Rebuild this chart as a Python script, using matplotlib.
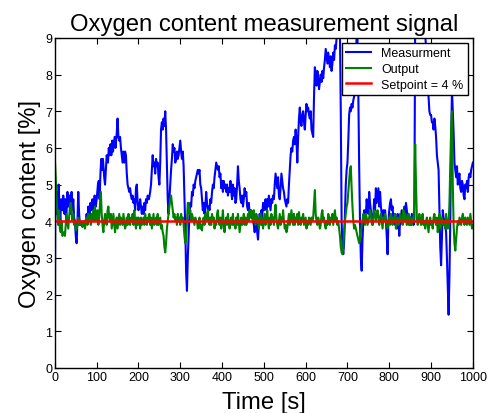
import matplotlib
matplotlib.use("Agg")
import matplotlib.pyplot as plt

plt.rcParams['font.family'] = ['Liberation Sans', 'DejaVu Sans']

# Measurement signal (time [s], value [%])
meas_t = [0, 1, 3, 5, 7, 9, 11, 13, 15, 18, 20, 23, 25, 27, 30, 32, 35, 37, 40, 42, 44, 46, 48,
          50, 52, 54, 56, 58, 60, 63, 66, 70, 73, 76, 78, 80, 83, 85, 88, 90, 93, 95, 98,
          100, 103, 105, 107, 109, 111, 113, 115, 118, 120, 122, 124, 127, 129, 131, 133, 135,
          137, 139, 141, 143, 145, 148, 150, 152, 154, 156, 158, 160, 162, 164, 166, 168, 170,
          172, 174, 176, 178, 180, 182, 184, 186, 188, 190, 192, 194, 196, 198, 200, 202, 204,
          206, 208, 210, 212, 214, 216, 218, 220, 222, 225, 228, 230, 232, 234, 236, 238, 240,
          242, 244, 246, 248, 250, 252, 254, 256, 258, 260, 262, 264, 266, 268, 270, 272, 274,
          276, 278, 280, 282, 284, 286, 288, 290, 292, 294, 296, 298, 300, 302, 304, 306, 308,
          310, 312, 314, 316, 318, 320, 322, 324, 326, 328, 330, 332, 334, 336, 338, 340, 342,
          344, 346, 348, 350, 352, 354, 356, 358, 360, 362, 364, 366, 368, 370, 372, 374, 376,
          378, 380, 382, 384, 386, 388, 390, 392, 394, 396, 398, 400, 402, 404, 406, 408, 410,
          412, 414, 416, 418, 420, 422, 424, 426, 428, 430, 432, 434, 436, 438, 440, 442, 444,
          446, 448, 450, 452, 454, 456, 458, 460, 462, 464, 466, 468, 470, 472, 474, 476, 478,
          480, 482, 484, 486, 488, 490, 492, 494, 496, 498, 500, 502, 504, 506, 508, 510, 512,
          514, 516, 518, 520, 522, 524, 526, 528, 530, 532, 534, 536, 538, 540, 542, 544, 546,
          548, 550, 552, 554, 556, 558, 560, 562, 564, 566, 568, 570, 572, 574, 576, 578, 580,
          582, 584, 586, 588, 590, 592, 594, 596, 598, 600, 602, 604, 606, 608, 610, 612, 614,
          616, 618, 620, 622, 624, 626, 628, 630, 632, 634, 636, 638, 640, 642, 644, 646, 648,
          650, 652, 654, 656, 658, 660, 662, 664, 666, 668, 670, 672, 674, 676, 678, 680, 682,
          684, 686, 688, 690, 692, 694, 696, 698, 700, 702, 704, 706, 708, 710, 712, 714, 716,
          718, 720, 722, 724, 726, 728, 730, 732, 734, 736, 738, 740, 742, 744, 746, 748, 750,
          752, 754, 756, 758, 760, 762, 764, 766, 768, 770, 772, 774, 776, 778, 780, 782, 784,
          786, 788, 790, 792, 794, 796, 798, 800, 802, 804, 806, 808, 810, 812, 814, 816, 818,
          820, 822, 824, 826, 828, 830, 832, 834, 836, 838, 840, 842, 844, 846, 848, 850, 852,
          854, 856, 858, 860, 862, 866, 875, 885, 890, 892, 894, 896, 898, 900, 902, 904, 906,
          908, 910, 912, 914, 916, 918, 920, 922, 924, 926, 928, 930, 932, 934, 936, 938, 940,
          942, 944, 946, 948, 950, 952, 954, 956, 958, 960, 962, 964, 966, 968, 970, 972, 974,
          976, 978, 980, 982, 984, 986, 988, 990, 992, 994, 996, 998, 1000]
meas_v = [0.2, 4.6, 4.2, 4.8, 4.3, 5.0, 4.4, 4.0, 4.6, 4.3, 4.7, 4.2, 4.6, 4.0, 4.8, 4.4, 4.7, 4.2, 4.8, 4.3, 4.6, 4.1, 4.0,
          3.6, 3.4, 4.0, 4.8, 4.2, 3.9, 3.9, 3.85, 3.9, 3.95, 4.2, 4.0, 4.4, 4.1, 4.5, 4.3, 4.6, 4.2, 4.7, 4.4,
          4.6, 5.0, 5.1, 4.6, 5.3, 5.7, 5.4, 5.7, 5.2, 5.0, 5.4, 5.8, 5.6, 6.0, 5.8, 6.1, 5.8,
          6.2, 5.9, 6.1, 6.3, 6.0, 6.4, 6.8, 6.3, 6.2, 6.3, 6.0, 5.8, 5.6, 5.9, 5.6, 5.9, 5.8,
          5.3, 5.0, 4.9, 4.8, 4.9, 4.7, 4.6, 4.7, 4.5, 4.6, 4.3, 4.9, 5.0, 4.5, 4.3, 4.4, 4.6,
          4.4, 4.2, 4.4, 4.2, 4.5, 4.3, 4.6, 4.5, 4.7, 4.6, 4.8, 5.0, 5.4, 5.8, 5.5, 5.6, 5.3,
          5.7, 5.5, 5.6, 5.2, 5.0, 5.6, 6.5, 6.7, 6.5, 6.8, 6.6, 7.0, 6.5, 5.5, 4.6, 4.2, 4.6,
          5.0, 5.4, 5.7, 6.1, 5.9, 6.0, 5.6, 5.7, 5.9, 5.7, 5.8, 6.0, 6.2, 5.9, 5.7, 5.9, 5.5,
          4.6, 3.8, 2.6, 2.1, 3.0, 3.6, 4.2, 4.5, 4.4, 4.8, 4.7, 5.0, 4.9, 5.1, 5.2, 5.3, 5.4,
          5.3, 5.4, 5.0, 4.9, 4.6, 4.3, 4.5, 4.2, 4.4, 4.8, 4.5, 4.3, 4.4, 4.3, 4.6, 4.5, 4.8,
          5.0, 4.9, 5.2, 5.4, 5.6, 5.5, 5.4, 5.5, 5.2, 5.3, 4.9, 5.1, 4.8, 5.1, 4.9, 5.0, 4.8,
          5.0, 4.7, 4.9, 4.8, 5.1, 4.8, 4.6, 5.0, 4.7, 4.9, 4.5, 4.6, 5.0, 5.5, 5.1, 4.9, 4.6,
          4.5, 4.7, 4.4, 4.6, 4.9, 4.7, 4.8, 4.4, 4.3, 4.5, 4.2, 4.3, 4.1, 4.2, 4.0, 3.9, 3.7,
          4.0, 4.1, 3.7, 3.5, 3.9, 4.2, 4.0, 4.3, 4.1, 4.5, 4.3, 4.4, 4.6, 4.3, 4.6, 4.4, 4.7,
          4.5, 4.3, 4.6, 4.5, 4.7, 4.6, 5.0, 5.3, 5.1, 4.9, 5.2, 4.7, 4.6, 4.9, 5.3, 5.1, 4.9,
          4.8, 4.6, 4.5, 4.4, 4.6, 4.5, 5.0, 5.4, 5.8, 6.0, 5.9, 6.2, 6.3, 6.1, 6.5, 6.2, 5.6,
          6.3, 6.8, 7.1, 6.7, 6.6, 6.9, 7.0, 6.7, 6.5, 6.9, 7.2, 7.0, 7.1, 6.9, 6.8, 7.0, 6.5,
          6.4, 6.3, 7.4, 8.2, 8.0, 7.7, 8.1, 7.9, 7.6, 7.8, 8.0, 7.8, 8.1, 7.9, 8.2, 8.4, 8.7,
          8.5, 8.3, 8.6, 8.4, 8.2, 8.5, 8.1, 8.3, 8.6, 8.4, 8.8, 8.7, 9.0, 9.3, 9.5, 9.4, 9.2,
          7.0, 4.0, 3.3, 3.1, 3.4, 4.2, 5.0, 5.4, 5.6, 6.2, 6.9, 7.1, 7.0, 7.2, 7.1, 7.3, 7.4,
          7.5, 8.0, 9.2, 9.0, 7.5, 5.5, 4.0, 3.0, 2.65, 3.5, 4.0, 4.3, 4.0, 4.2, 4.6, 4.3, 4.2,
          4.8, 4.5, 4.3, 4.0, 3.9, 4.2, 4.6, 4.3, 4.9, 4.5, 4.7, 4.9, 4.4, 4.8, 4.4, 4.2, 4.0,
          4.3, 4.1, 4.3, 4.0, 3.6, 3.1, 4.0, 4.3, 4.5, 4.6, 4.3, 4.4, 4.0, 4.2, 3.9, 4.1, 3.8,
          4.2, 4.0, 3.6, 4.0, 4.1, 4.3, 4.0, 4.2, 4.4, 4.1, 4.5, 4.3, 4.1, 4.2, 3.9, 4.1, 3.9,
          4.2, 4.1, 3.9, 4.0, 9.5, 9.4, 9.3, 9.2, 8.5, 7.6, 7.4, 7.0, 6.9, 6.9, 6.7, 6.7, 6.5,
          6.8, 6.6, 6.3, 5.8, 5.6, 5.4, 4.3, 3.3, 2.8, 3.6, 4.3, 4.1, 4.0, 3.9, 3.7, 3.0, 2.2,
          1.45, 2.5, 4.0, 6.0, 7.6, 7.0, 6.4, 5.6, 5.4, 5.2, 5.5, 5.0, 5.2, 5.3, 4.9, 4.8, 5.1,
          5.0, 4.7, 4.6, 5.0, 4.9, 5.1, 4.8, 5.2, 5.3, 5.2, 5.4, 5.5, 5.6]

# Controller output (time [s], value [%]), sampled every 2 s
out_t = list(range(0, 1001, 2))
out_v = [5.7, 5.2, 4.6, 4.2, 3.9, 4.3, 3.8, 3.7, 4.0, 3.6, 3.65, 3.7, 3.6, 3.9, 4.2, 4.0, 3.8, 4.1, 4.4, 4.5,
         4.3, 4.0, 4.2, 3.9, 4.0, 3.75, 3.8, 3.9, 4.1, 3.9, 4.0, 3.9, 4.0, 3.85, 3.9, 4.0, 3.8, 4.0, 4.1, 3.9,
         4.2, 4.0, 4.1, 3.9, 4.2, 4.0, 4.3, 4.0, 4.4, 4.1, 4.0, 4.3, 3.9, 4.1, 4.5, 4.8, 4.2, 3.9, 3.7, 4.0,
         4.2, 4.0, 3.9, 4.3, 4.4, 4.1, 4.0, 4.2, 3.8, 4.0, 4.2, 3.9, 3.7, 4.0, 4.1, 3.8, 4.0, 4.2, 3.9, 4.1,
         4.0, 3.9, 4.2, 4.0, 3.8, 3.9, 4.1, 3.9, 4.2, 4.0, 3.9, 4.1, 4.0, 4.2, 3.9, 4.3, 4.0, 3.8, 4.1, 3.9,
         4.1, 4.0, 3.8, 4.1, 3.9, 4.0, 4.1, 3.9, 4.2, 4.0, 3.9, 4.1, 4.0, 4.2, 3.9, 4.1, 3.8, 4.0, 4.2, 3.9,
         4.0, 4.1, 3.9, 4.2, 3.9, 4.0, 4.1, 3.8, 3.9, 3.7, 3.6, 3.3, 3.15, 3.4, 3.8, 4.0, 4.2, 4.4, 4.6, 4.7,
         4.5, 4.3, 4.1, 4.2, 4.0, 4.1, 3.9, 4.2, 4.0, 4.1, 3.9, 4.2, 4.0, 4.1, 3.9, 3.6, 3.4, 3.5, 4.0, 4.5,
         4.5, 4.2, 4.3, 4.0, 4.2, 4.1, 4.0, 3.9, 4.1, 4.0, 4.0, 3.8, 3.9, 4.1, 3.8, 3.9, 3.75, 4.0, 4.1, 3.9,
         4.2, 4.0, 4.2, 4.3, 4.0, 3.9, 4.1, 3.9, 4.2, 4.0, 4.1, 3.8, 4.0, 3.9, 4.2, 4.3, 4.0, 3.9, 4.1, 3.8,
         4.0, 4.3, 3.9, 3.7, 4.0, 4.1, 3.9, 4.2, 4.0, 3.8, 4.0, 4.1, 3.9, 4.2, 3.9, 4.0, 3.8, 4.1, 3.9, 4.2,
         4.0, 3.7, 3.9, 4.1, 3.9, 4.0, 4.2, 3.9, 4.1, 3.9, 4.0, 4.2, 4.0, 4.3, 4.1, 4.3, 4.2, 4.0, 4.3, 4.1,
         3.9, 4.2, 4.0, 4.1, 3.8, 4.0, 4.2, 3.9, 4.1, 3.8, 4.0, 4.2, 3.9, 4.0, 4.3, 4.0, 3.8, 4.1, 3.9, 4.2,
         4.0, 4.1, 3.9, 4.2, 4.45, 4.1, 3.9, 3.8, 4.0, 4.2, 3.9, 4.1, 4.0, 4.3, 4.0, 3.8, 3.9, 3.7, 3.8, 4.0,
         4.2, 3.9, 4.1, 4.3, 4.0, 3.9, 4.2, 3.9, 4.1, 4.0, 4.2, 3.9, 4.25, 4.0, 3.9, 4.1, 4.0, 4.2, 3.9, 4.0,
         4.1, 3.8, 4.0, 3.9, 4.1, 4.0, 3.9, 4.1, 4.0, 4.1, 4.5, 4.85, 4.2, 4.0, 3.9, 4.1, 4.0, 3.8, 3.9, 4.2,
         4.3, 4.0, 4.1, 3.9, 3.8, 4.0, 3.9, 4.2, 4.1, 3.9, 4.1, 4.0, 4.2, 3.9, 4.1, 4.3, 4.0, 4.1, 3.9, 4.0,
         3.8, 3.6, 3.3, 3.15, 3.1, 3.3, 3.7, 4.0, 4.2, 4.4, 4.5, 4.8, 5.1, 5.4, 5.5, 4.9, 4.4, 4.0, 3.8, 3.9,
         3.8, 3.7, 3.6, 3.5, 3.4, 3.5, 3.7, 3.9, 4.0, 4.2, 4.0, 3.9, 4.2, 4.1, 3.9, 4.0, 4.1, 4.3, 4.2, 4.0,
         3.9, 4.1, 4.3, 4.2, 4.0, 4.2, 4.3, 4.1, 3.9, 4.1, 4.2, 4.0, 3.8, 4.1, 4.0, 4.2, 4.0, 3.9, 3.8, 4.0,
         4.1, 3.9, 4.2, 4.0, 3.9, 4.1, 4.0, 4.2, 3.8, 4.0, 4.1, 3.9, 4.0, 4.2, 4.0, 4.1, 3.9, 4.3, 4.0, 4.2,
         4.1, 3.9, 4.0, 4.2, 3.9, 4.1, 4.0, 3.9, 4.1, 4.0, 4.5, 6.1, 5.0, 4.1, 3.9, 4.0, 4.2, 4.0, 3.9, 4.1,
         4.2, 3.9, 4.0, 3.8, 4.0, 4.1, 3.9, 3.7, 4.0, 4.1, 3.9, 4.0, 3.8, 4.1, 4.2, 4.0, 3.9, 4.1, 3.7, 3.9,
         4.2, 3.8, 3.9, 4.1, 4.0, 3.9, 4.0, 3.8, 4.2, 4.0, 3.8, 3.9, 4.5, 5.5, 6.5, 7.0, 5.0, 3.9, 3.4, 3.2,
         3.5, 3.8, 4.0, 3.9, 4.1, 4.0, 3.9, 4.1, 4.2, 4.0, 3.9, 4.1, 4.0, 3.9, 4.1, 4.0, 3.9, 4.2, 4.0, 3.8,
         3.9]

setpoint_t = [0, 1000]
setpoint_v = [4, 4]

x_ticks = [0, 100, 200, 300, 400, 500, 600, 700, 800, 900, 1000]
y_ticks = [0, 1, 2, 3, 4, 5, 6, 7, 8, 9]

fig = plt.figure(figsize=(4.9, 4.14), dpi=100)
ax = fig.add_axes([0.112, 0.109, 0.853, 0.797])

ax.plot(meas_t, meas_v, color='#0000ff', lw=1.5, label='Measurment')
ax.plot(out_t, out_v, color='#008000', lw=1.5, label='Output')
ax.plot(setpoint_t, setpoint_v, color='#ff0000', lw=1.8, label='Setpoint = 4 %')

ax.set_xlim(0, 1000)
ax.set_ylim(0, 9)
ax.set_xticks(x_ticks)
ax.set_yticks(y_ticks)
ax.tick_params(direction='in', top=True, right=True, labelsize=9, length=4, width=0.8, pad=2)
for s in ax.spines.values():
    s.set_linewidth(1.0)

ax.set_title('Oxygen content measurement signal', fontsize=17.2, pad=6)
ax.set_xlabel('Time [s]', fontsize=17.2, labelpad=6)
ax.set_ylabel('Oxygen content [%]', fontsize=17.2, labelpad=3)

leg = ax.legend(loc='upper right', fontsize=9, fancybox=False, framealpha=1,
                edgecolor='black', borderaxespad=0.4, handlelength=2.0,
                labelspacing=0.3, borderpad=0.35)
leg.get_frame().set_linewidth(1.0)

fig.savefig('out.png', dpi=100)
